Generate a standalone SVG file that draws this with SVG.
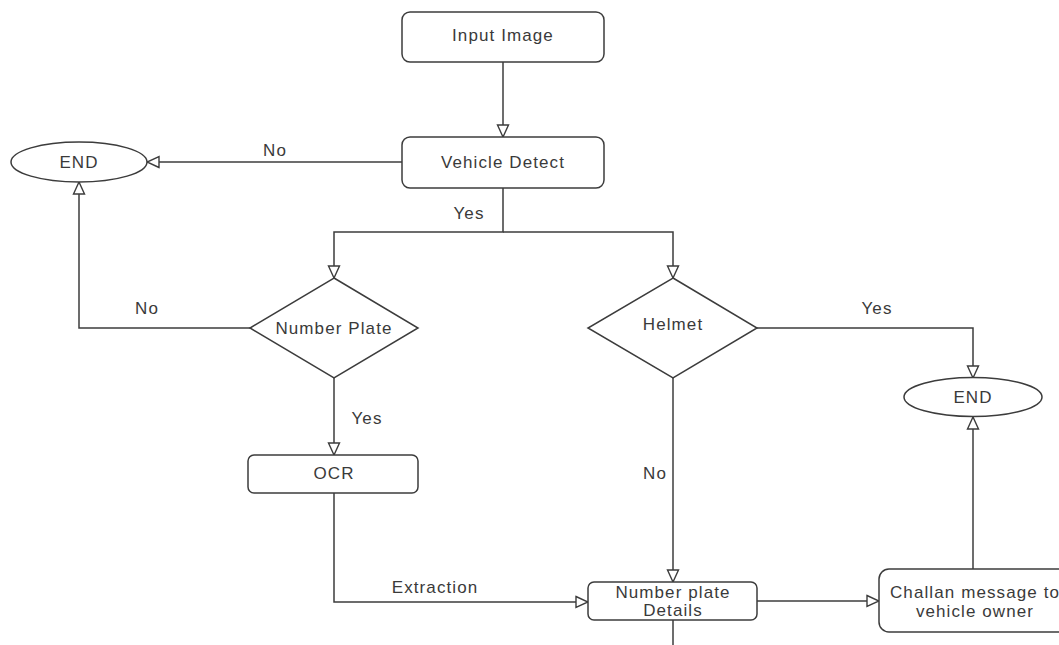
<svg xmlns="http://www.w3.org/2000/svg" width="1059" height="645" viewBox="0 0 1059 645">
<defs>
<marker id="arr" viewBox="0 0 14 14" markerWidth="14" markerHeight="14" refX="13" refY="7" orient="auto" markerUnits="userSpaceOnUse">
<path d="M1,1.5 L13,7 L1,12.5 Z" fill="#fff" stroke="#3c3c3c" stroke-width="1.4"/>
</marker>
<style>
.n{fill:#fff;stroke:#3c3c3c;stroke-width:1.5}
.t{font-family:"Liberation Sans",Arial,sans-serif;font-size:17px;fill:#3a3a3a;text-anchor:middle;letter-spacing:1.1px}
.c{fill:none;stroke:#3c3c3c;stroke-width:1.5}
</style>
</defs>
<rect width="1059" height="645" fill="#fff"/>
<g id="connectors">
<path class="c" d="M503,62 V137" marker-end="url(#arr)"/>
<path class="c" d="M402,162 H147" marker-end="url(#arr)"/>
<path class="c" d="M503,188 V232 H334 V278" marker-end="url(#arr)"/>
<path class="c" d="M503,232 H673 V278" marker-end="url(#arr)"/>
<path class="c" d="M250,328 H79 V182" marker-end="url(#arr)"/>
<path class="c" d="M334,378 V455" marker-end="url(#arr)"/>
<path class="c" d="M334,493 V602 H588" marker-end="url(#arr)"/>
<path class="c" d="M673,378 V582" marker-end="url(#arr)"/>
<path class="c" d="M757,328 H973 V378" marker-end="url(#arr)"/>
<path class="c" d="M757,601 H879" marker-end="url(#arr)"/>
<path class="c" d="M973,569 V417" marker-end="url(#arr)"/>
<path class="c" d="M673,620 V645"/>
<text class="t" x="275" y="156">No</text>
<text class="t" x="469" y="219">Yes</text>
<text class="t" x="147" y="314">No</text>
<text class="t" x="367" y="424">Yes</text>
<text class="t" x="435" y="593">Extraction</text>
<text class="t" x="655" y="479">No</text>
<text class="t" x="877" y="314">Yes</text>
</g>
<g id="input-image">
<rect class="n" x="402" y="12" width="202" height="50" rx="8"/>
<text class="t" x="503" y="41">Input Image</text>
</g>
<g id="vehicle-detect">
<rect class="n" x="402" y="137" width="202" height="51" rx="8"/>
<text class="t" x="503" y="168">Vehicle Detect</text>
</g>
<g id="end-1">
<ellipse class="n" cx="79" cy="162" rx="68" ry="20"/>
<text class="t" x="79" y="168">END</text>
</g>
<g id="number-plate">
<polygon class="n" points="334,278 418,328 334,378 250,328"/>
<text class="t" x="334" y="334">Number Plate</text>
</g>
<g id="helmet">
<polygon class="n" points="673,278 757,328 673,378 588,328"/>
<text class="t" x="673" y="330">Helmet</text>
</g>
<g id="end-2">
<ellipse class="n" cx="973" cy="397" rx="69" ry="19.5"/>
<text class="t" x="973" y="403">END</text>
</g>
<g id="ocr">
<rect class="n" x="248" y="455" width="170" height="38" rx="6"/>
<text class="t" x="334" y="479">OCR</text>
</g>
<g id="number-plate-details">
<rect class="n" x="588" y="582" width="169" height="38" rx="6"/>
<text class="t" x="673" y="598">Number plate</text>
<text class="t" x="673" y="616">Details</text>
</g>
<g id="challan">
<rect class="n" x="879" y="569" width="200" height="63" rx="10"/>
<text class="t" x="975" y="598">Challan message to</text>
<text class="t" x="975" y="617">vehicle owner</text>
</g>
</svg>
